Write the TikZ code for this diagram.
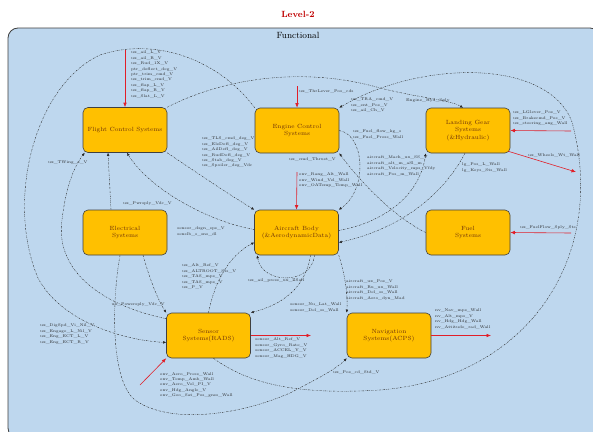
\documentclass[tikz,border=0pt]{standalone}
\usetikzlibrary{arrows.meta,calc}
\definecolor{bgblue}{RGB}{190,215,238}
\definecolor{sysorange}{RGB}{255,192,0}
\definecolor{systext}{RGB}{110,50,10}
\definecolor{arrred}{RGB}{225,30,40}
\definecolor{titlered}{RGB}{192,0,0}
\begin{document}
\begin{tikzpicture}[x=1pt,y=-1pt,
 sys/.style={draw=black!75, line width=0.6pt, fill=sysorange, rounded corners=5pt, minimum width=84pt, minimum height=45pt, align=center, text=systext, font=\fontsize{6}{7.5}\selectfont, inner sep=1pt},
 lbl/.style={font=\fontsize{3.9}{5.4}\selectfont, align=left, inner sep=0pt, text=black!85},
 flow/.style={draw=black!85, line width=0.4pt, dash pattern=on 1.6pt off 1.1pt on 0.4pt off 1.1pt, -{Latex[length=3pt,width=2.6pt]}},
 redflow/.style={draw=arrred, line width=0.6pt, -{Latex[length=4.5pt,width=3.6pt]}},
]
\useasboundingbox (0,0) rectangle (593,431);
\clip (0,0) rectangle (593,431);
\fill[white] (0,0) rectangle (593,431);
\node[font=\bfseries\fontsize{9}{10}\selectfont, text=titlered] (title) at (298,14) {Level-2};
\draw[rounded corners=10pt, fill=bgblue, draw=black!75, line width=0.8pt] (8,28) rectangle (600,438);
\node[font=\fontsize{9}{10}\selectfont] (func) at (298,35) {Functional};

% systems
\node[sys] (fcs) at (125,130) {Flight Control Systems};
\node[sys] (ecs) at (297,130.5) {Engine Control\\Systems};
\node[sys] (lgs) at (468,130.5) {Landing Gear\\Systems\\(\&Hydraulic)};
\node[sys] (ele) at (125,232.5) {Electrical\\Systems};
\node[sys] (ab) at (296.5,232.5) {Aircraft Body\\(\&AerodynamicData)};
\node[sys] (fuel) at (468,232.5) {Fuel\\Systems};
\node[sys] (sen) at (208.5,335.5) {Sensor\\Systems(RADS)};
\node[sys] (nav) at (389,335.5) {Navigation\\Systems(ACPS)};

% dashed flows
\draw[flow] (ecs.north west) .. controls (215,55) and (150,38) .. (100,55) .. controls (35,85) and (5,200) .. (38,278) .. controls (60,320) and (120,340) .. ($(sen.west)+(0,7)$);
\draw[flow] (fcs.north east) .. controls (220,80) and (300,65) .. (380,88) .. controls (420,98) and (450,100) .. ($(lgs.north)+(-5,0)$);
\draw[flow] ($(sen.south)+(5,0)$) .. controls (250,385) and (300,395) .. (380,390) .. controls (530,378) and (608,255) .. (572,122) .. controls (548,58) and (420,60) .. (ecs.north east);
\draw[flow] (fcs.south east) .. controls (200,175) and (230,195) .. (ab.north west);
\draw[flow] ($(ab.west)+(0,-3)$) .. controls (210,222) and (150,190) .. ($(fcs.south)+(2,0)$);
\draw[flow] ($(ele.north)+(-14,0)$) -- ($(fcs.south)+(-17,0)$);
\draw[flow] (sen.north) .. controls (215,280) and (230,255) .. ($(ab.west)+(0,10)$);
\draw[flow] ($(ab.south)+(18,0)$) .. controls (312,285) and (262,285) .. ($(ab.south west)+(3,0)$);
\draw[flow] ($(ab.south)+(14,0)$) .. controls (305,290) and (280,305) .. (sen.north east);
\draw[flow] (ab.south east) .. controls (345,275) and (348,295) .. (nav.north west);
\draw[flow] (ecs.east) .. controls (365,135) and (368,190) .. (ab.north east);
\draw[flow] (fuel.west) .. controls (390,215) and (355,175) .. (ecs.south east);
\draw[flow] ($(ab.east)+(0,-2)$) .. controls (385,222) and (420,195) .. (lgs.south west);
\draw[flow] ($(lgs.south)+(-3,0)$) .. controls (440,200) and (395,230) .. ($(ab.east)+(0,10)$);
\draw[flow] ($(sen.north west)+(0,6)$) .. controls (100,305) and (55,270) .. (62,220) .. controls (66,185) and (75,165) .. ($(fcs.south west)+(2,0)$);
\draw[flow] ($(ele.south)+(18,0)$) .. controls (150,280) and (158,300) .. (sen.north west);
\draw[flow] ($(ele.south)+(-5,0)$) .. controls (112,300) and (110,380) .. (135,400) .. controls (170,425) and (240,415) .. (290,393) .. controls (315,380) and (335,370) .. (nav.south west);

% red flows
\coordinate (r1) at (125,50);
\coordinate (r2) at (297,86);
\coordinate (r3) at (297,172);
\coordinate (r4) at (571,131);
\coordinate (r5) at (576,172);
\coordinate (r6) at (571,233);
\coordinate (r7) at (140,385);
\coordinate (r8) at (311,335.5);
\coordinate (r9) at (491,335.5);
\draw[redflow] (r1) -- (fcs.north);
\draw[redflow] (r2) -- (ecs.north);
\draw[redflow] (r3) -- (ab.north);
\draw[redflow] (r4) -- (lgs.east);
\draw[redflow] ($(lgs.south east)+(-2,-2)$) -- (r5);
\draw[redflow] (r6) -- (fuel.east);
\draw[redflow] (r7) -- (sen.south west);
\draw[redflow] (sen.east) -- (r8);
\draw[redflow] (nav.east) -- (r9);

% labels
\node[lbl, anchor=north west] (l1) at (131,51) {ux\_ail\_L\_V\\ux\_ail\_R\_V\\ux\_Rud\_1X\_V\\ptr\_deflect\_deg\_V\\ptr\_trim\_cmd\_V\\ux\_trim\_cmd\_V\\ux\_flap\_L\_V\\ux\_flap\_R\_V\\ux\_Slat\_L\_V};
\node[lbl, anchor=west] (l2) at (299,91) {ux\_ThrLever\_Pos\_cds};
\node[lbl, anchor=north west] (l3) at (351,98) {ux\_TRA\_cmd\_V\\ux\_ent\_Pos\_V\\ux\_ail\_Ch\_V};
\node[lbl, anchor=west] (l4) at (406,101) {Engine\_Hyd\_Sply};
\node[lbl, anchor=north west] (l5) at (513,111) {ux\_LGlever\_Pos\_V\\ux\_Brakecmd\_Pos\_V\\ux\_steering\_ang\_Wall};
\node[lbl, anchor=west] (l6) at (528,155) {ux\_Wheels\_Wt\_Wall};
\node[lbl, anchor=west] (l7) at (520,228) {ux\_FuelFlow\_Sply\_Sts};
\node[lbl, anchor=north west] (l8) at (353,130) {ux\_Fuel\_flow\_kg\_s\\ux\_Fuel\_Press\_Wall};
\node[lbl, anchor=east] (l9) at (336,159) {ux\_cmd\_Thrust\_V};
\node[lbl, anchor=north west] (l10) at (367,156) {aircraft\_Mach\_ux\_SS\_V\\aircraft\_alt\_m\_aSl\_m\\aircraft\_Velocity\_mps\_Vfdy\\aircraft\_Pos\_m\_Wall};
\node[lbl, anchor=north west] (l11) at (299,173) {env\_Rang\_Alt\_Wall\\env\_Wind\_Vel\_Wall\\env\_OATemp\_Temp\_Wall};
\node[lbl, anchor=north west] (l12) at (462,163) {lg\_Pos\_L\_Wall\\lg\_Keys\_Sts\_Wall};
\node[lbl, anchor=north west] (l13) at (202,137) {ux\_TLS\_cmd\_deg\_V\\ux\_EleDefl\_deg\_V\\ux\_AilDefl\_deg\_V\\ux\_RudDefl\_deg\_V\\ux\_Stab\_deg\_V\\ux\_Spoiler\_deg\_Vdc};
\node[lbl, anchor=west] (l14) at (48,163) {ux\_TWing\_s\_V};
\node[lbl, anchor=west] (l15) at (123,204) {ux\_Pwrsply\_Vdc\_V};
\node[lbl, anchor=north west] (l16) at (177,227) {sensor\_dsgn\_sps\_V\\senslb\_s\_sns\_dl};
\node[lbl, anchor=north west] (l17) at (182,264) {ux\_Alt\_Ref\_V\\ux\_ALTROOT\_Sts\_V\\ux\_TAS\_mps\_V\\ux\_TAS\_mps\_V\\ux\_P\_V};
\node[lbl, anchor=west] (l18) at (248,280) {ux\_ail\_press\_ux\_ZSall};
\node[lbl, anchor=north west] (l19) at (290,303) {sensor\_Nu\_Lat\_Wall\\sensor\_Del\_ss\_Wall};
\node[lbl, anchor=north west] (l20) at (346,280) {aircraft\_ux\_Pos\_V\\aircraft\_Ru\_ux\_Wall\\aircraft\_Del\_ss\_Wall\\aircraft\_Aero\_dyn\_Mad};
\node[lbl, anchor=north west] (l21) at (255,338) {sensor\_Alt\_Ref\_V\\sensor\_Gyro\_Rate\_V\\sensor\_ACCEL\_Y\_V\\sensor\_Mag\_HDG\_V};
\node[lbl, anchor=north west] (l22) at (435,309) {nv\_Nav\_mps\_Wall\\nv\_Alt\_mps\_V\\nv\_Hdg\_Hdg\_Wall\\nv\_Attitude\_rad\_Wall};
\node[lbl, anchor=west] (l23) at (333,372) {ux\_Pos\_cd\_Std\_V};
\node[lbl, anchor=north west] (l24) at (160,372) {env\_Aero\_Press\_Wall\\env\_Temp\_Amb\_Wall\\env\_Aero\_Vel\_PI\_V\\env\_Hdg\_Angle\_V\\env\_Geo\_Sat\_Pos\_gnss\_Wall};
\node[lbl, anchor=north west] (l25) at (40,324) {ux\_DigSpd\_Vi\_Nil\_V\\ux\_Engage\_L\_Nil\_V\\ux\_Eng\_ECT\_L\_V\\ux\_Eng\_ECT\_R\_V};
\node[lbl, anchor=east] (l26) at (165,305) {ux\_Powersply\_Vdc\_V};
\end{tikzpicture}
\end{document}
